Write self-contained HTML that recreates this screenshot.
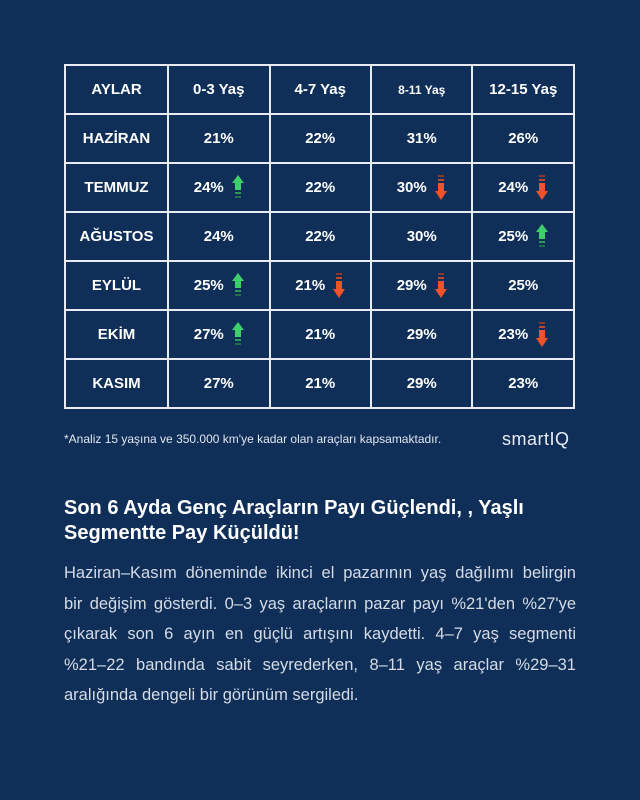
<!DOCTYPE html>
<html><head><meta charset="utf-8"><style>
body{margin:0;width:640px;height:800px;background:#0f2f59;font-family:"Liberation Sans",sans-serif;color:#fff;position:relative;overflow:hidden}
table{position:absolute;left:64px;top:64px;width:511px;border-collapse:collapse}
td{border:2px solid #e8ecf2;text-align:center;font-weight:bold;font-size:15px;width:102px;height:47px;position:relative;padding:0}
.a{display:inline-block;vertical-align:middle;margin-left:8px}
.note{position:absolute;left:64px;top:432px;font-size:12px;color:#e0e6ee}
.logo{position:absolute;left:502px;top:429px;font-size:18px;color:#e8ecf2;letter-spacing:0.5px}
h1{position:absolute;left:64px;top:496px;margin:0;font-size:20px;line-height:25px;font-weight:bold;width:520px}
p{position:absolute;left:64px;top:558px;margin:0;width:512px;font-size:16.5px;line-height:30.5px;color:#d5dbe5}
p span{display:block;text-align:justify;text-align-last:justify;white-space:nowrap}
p span.l{text-align-last:left}
</style></head><body>
<table>
<tr><td>AYLAR</td><td>0-3 Yaş</td><td>4-7 Yaş</td><td style="font-size:12px">8-11 Yaş</td><td>12-15 Yaş</td></tr>
<tr><td>HAZİRAN</td><td>21%</td><td>22%</td><td>31%</td><td>26%</td></tr>
<tr><td>TEMMUZ</td><td>24%<svg class="a" width="12" height="26"><polygon points="6,0 12,8 9,8 9,15 3,15 3,8 0,8" fill="#3ccf6a"/><rect x="3" y="17" width="6" height="2" fill="#2a9a55"/><rect x="3" y="21" width="6" height="2" fill="#226e48"/></svg></td><td>22%</td><td>30%<svg class="a" width="12" height="26"><rect x="3" y="0" width="6" height="2" fill="#8a3a2a"/><rect x="3" y="4" width="6" height="2" fill="#c04a28"/><polygon points="3,8 9,8 9,16 12,16 6,25 0,16 3,16" fill="#f0522a"/></svg></td><td>24%<svg class="a" width="12" height="26"><rect x="3" y="0" width="6" height="2" fill="#8a3a2a"/><rect x="3" y="4" width="6" height="2" fill="#c04a28"/><polygon points="3,8 9,8 9,16 12,16 6,25 0,16 3,16" fill="#f0522a"/></svg></td></tr>
<tr><td>AĞUSTOS</td><td>24%</td><td>22%</td><td>30%</td><td>25%<svg class="a" width="12" height="26"><polygon points="6,0 12,8 9,8 9,15 3,15 3,8 0,8" fill="#3ccf6a"/><rect x="3" y="17" width="6" height="2" fill="#2a9a55"/><rect x="3" y="21" width="6" height="2" fill="#226e48"/></svg></td></tr>
<tr><td>EYLÜL</td><td>25%<svg class="a" width="12" height="26"><polygon points="6,0 12,8 9,8 9,15 3,15 3,8 0,8" fill="#3ccf6a"/><rect x="3" y="17" width="6" height="2" fill="#2a9a55"/><rect x="3" y="21" width="6" height="2" fill="#226e48"/></svg></td><td>21%<svg class="a" width="12" height="26"><rect x="3" y="0" width="6" height="2" fill="#8a3a2a"/><rect x="3" y="4" width="6" height="2" fill="#c04a28"/><polygon points="3,8 9,8 9,16 12,16 6,25 0,16 3,16" fill="#f0522a"/></svg></td><td>29%<svg class="a" width="12" height="26"><rect x="3" y="0" width="6" height="2" fill="#8a3a2a"/><rect x="3" y="4" width="6" height="2" fill="#c04a28"/><polygon points="3,8 9,8 9,16 12,16 6,25 0,16 3,16" fill="#f0522a"/></svg></td><td>25%</td></tr>
<tr><td>EKİM</td><td>27%<svg class="a" width="12" height="26"><polygon points="6,0 12,8 9,8 9,15 3,15 3,8 0,8" fill="#3ccf6a"/><rect x="3" y="17" width="6" height="2" fill="#2a9a55"/><rect x="3" y="21" width="6" height="2" fill="#226e48"/></svg></td><td>21%</td><td>29%</td><td>23%<svg class="a" width="12" height="26"><rect x="3" y="0" width="6" height="2" fill="#8a3a2a"/><rect x="3" y="4" width="6" height="2" fill="#c04a28"/><polygon points="3,8 9,8 9,16 12,16 6,25 0,16 3,16" fill="#f0522a"/></svg></td></tr>
<tr><td>KASIM</td><td>27%</td><td>21%</td><td>29%</td><td>23%</td></tr>
</table>
<div class="note">*Analiz 15 yaşına ve 350.000 km'ye kadar olan araçları kapsamaktadır.</div>
<div class="logo">smartIQ</div>
<h1>Son 6 Ayda Genç Araçların Payı Güçlendi, , Yaşlı Segmentte Pay Küçüldü!</h1>
<p><span>Haziran–Kasım döneminde ikinci el pazarının yaş dağılımı belirgin</span><span>bir değişim gösterdi. 0–3 yaş araçların pazar payı %21'den %27'ye</span><span>çıkarak son 6 ayın en güçlü artışını kaydetti. 4–7 yaş segmenti</span><span>%21–22 bandında sabit seyrederken, 8–11 yaş araçlar %29–31</span><span class="l">aralığında dengeli bir görünüm sergiledi.</span></p>
</body></html>
